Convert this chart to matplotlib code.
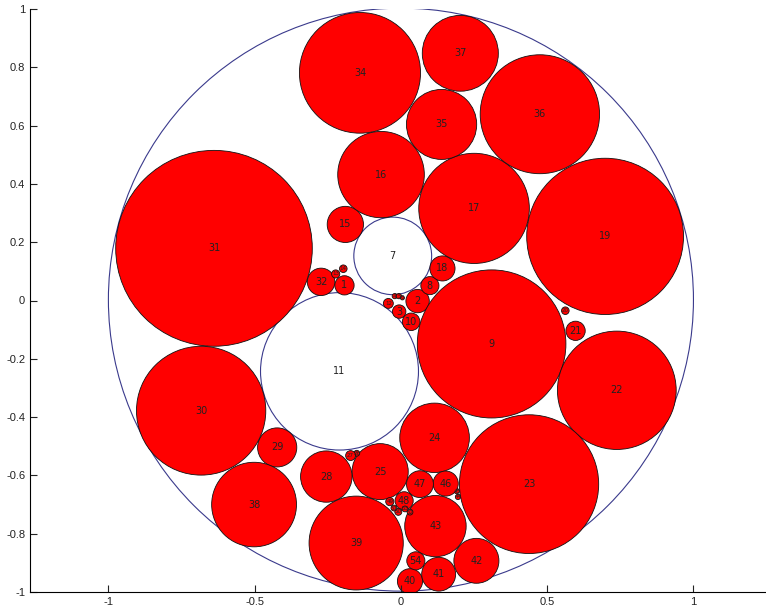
import matplotlib
matplotlib.use('Agg')
import matplotlib.pyplot as plt
from matplotlib.patches import Circle

# filled (red) discs: label, centre x, centre y, radius
red_labels = ['1', '32', '13', '14', '12', '4', '5', '6', '2', '3', '10', '8', '18',
              '15', '16', '17', '19', '9', '20', '21', '22', '23', '24', '25', '26',
              '27', '28', '29', '30', '31', '34', '35', '36', '37', '38', '39', '40',
              '41', '42', '43', '44', '45', '46', '47', '48', '49', '50', '51', '52',
              '53', '54']
red_x = [-0.193, -0.273, -0.223, -0.197, -0.043, -0.021, -0.007, 0.005, 0.057, -0.006,
         0.035, 0.099, 0.142, -0.190, -0.068, 0.250, 0.698, 0.310, 0.562, 0.597,
         0.738, 0.438, 0.115, -0.071, -0.151, -0.172, -0.255, -0.423, -0.683, -0.639,
         -0.140, 0.139, 0.475, 0.203, -0.502, -0.153, 0.031, 0.129, 0.258, 0.118,
         0.195, 0.191, 0.153, 0.065, 0.011, -0.038, -0.009, -0.024, 0.031, 0.014, 0.051]
red_y = [0.052, 0.064, 0.091, 0.109, -0.010, 0.015, 0.015, 0.009, -0.002, -0.038,
         -0.073, 0.051, 0.110, 0.261, 0.432, 0.316, 0.220, -0.149, -0.035, -0.104,
         -0.308, -0.630, -0.471, -0.587, -0.524, -0.532, -0.604, -0.504, -0.378, 0.179,
         0.781, 0.604, 0.639, 0.848, -0.700, -0.832, -0.963, -0.939, -0.893, -0.774,
         -0.674, -0.654, -0.628, -0.630, -0.687, -0.690, -0.725, -0.712, -0.726, -0.715, -0.893]
red_r = [0.033, 0.047, 0.014, 0.013, 0.017, 0.009, 0.009, 0.007, 0.040, 0.023,
         0.030, 0.031, 0.043, 0.062, 0.148, 0.189, 0.268, 0.254, 0.013, 0.033,
         0.203, 0.238, 0.119, 0.096, 0.010, 0.017, 0.088, 0.067, 0.221, 0.336,
         0.207, 0.120, 0.204, 0.130, 0.145, 0.161, 0.043, 0.058, 0.077, 0.105,
         0.009, 0.009, 0.043, 0.046, 0.031, 0.014, 0.012, 0.010, 0.010, 0.010, 0.031]

# empty (white) discs
white_labels = ['7', '11']
white_x = [-0.028, -0.210]
white_y = [0.153, -0.243]
white_r = [0.133, 0.270]

# container (sits a hair above the top limit, so its top gets clipped)
outer_x, outer_y, outer_r = 0.0, 0.003, 1.0

xticks = [-1, -0.5, 0, 0.5, 1]
yticks = [-1, -0.8, -0.6, -0.4, -0.2, 0, 0.2, 0.4, 0.6, 0.8, 1]

blue = '#3a3a8c'

fig = plt.figure(figsize=(7.66, 6.10), dpi=100)
ax = fig.add_axes([30/766, 18/610, 736/766, 583/610])

ax.add_patch(Circle((outer_x, outer_y), outer_r, fill=False, ec=blue, lw=0.8))
for lab, x, y, r in zip(white_labels, white_x, white_y, white_r):
  ax.add_patch(Circle((x, y), r, fc='white', ec=blue, lw=0.8))
  ax.text(x, y, lab, ha='center', va='center', fontsize=7, color='#222222')
for lab, x, y, r in zip(red_labels, red_x, red_y, red_r):
  ax.add_patch(Circle((x, y), r, fc='#ff0000', ec='#111111', lw=0.6))
  fs = 7 if r > 0.02 else 4
  ax.text(x, y, lab, ha='center', va='center', fontsize=fs, color='#222222')

ax.set_xlim(-1.268, 1.248)
ax.set_ylim(-1, 1)
ax.set_xticks(xticks)
ax.set_xticklabels(['-1', '-0.5', '0', '0.5', '1'])
ax.set_yticks(yticks)
ax.set_yticklabels(['-1', '-0.8', '-0.6', '-0.4', '-0.2', '0', '0.2', '0.4', '0.6', '0.8', '1'])
ax.tick_params(direction='in', length=5, labelsize=8, colors='#222222',
               labelfontfamily='Liberation Sans')
ax.spines['top'].set_visible(False)
ax.spines['right'].set_visible(False)

fig.savefig('out.png', dpi=100)
